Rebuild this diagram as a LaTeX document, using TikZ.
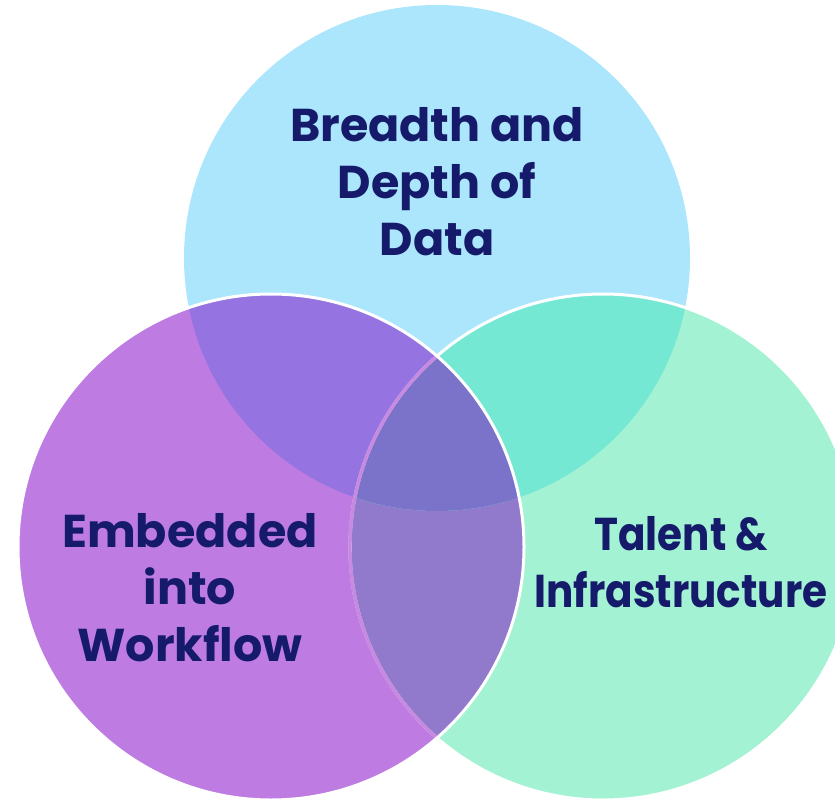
\documentclass[tikz,border=0pt]{standalone}
\usepackage{fontspec}
\setmainfont{Poppins}
\definecolor{datablue}{HTML}{ABE6FC}
\definecolor{workpurple}{HTML}{BE7CE3}
\definecolor{talentgreen}{HTML}{A2F2D3}
\definecolor{dataworkcol}{HTML}{9573E1}
\definecolor{datatalentcol}{HTML}{75E8D3}
\definecolor{worktalentcol}{HTML}{9179CC}
\definecolor{centrecol}{HTML}{7B73CA}
\definecolor{seamcol}{HTML}{C68AE0}
\definecolor{navytext}{HTML}{151A6A}
\tikzset{venntext/.style={align=center, text=navytext, font=\fontsize{46}{57}\selectfont\bfseries}}

\begin{document}
\begin{tikzpicture}[x=1pt, y=-1pt]
                    \useasboundingbox (0,0) rectangle (835,799);
                    \clip (0,0) rectangle (835,799);

                    \coordinate (cdata) at (437, 258);
                    \coordinate (cwork) at (271, 547);
                    \coordinate (ctalent) at (603, 547);

                    \fill[datablue] (cdata) circle[radius=253pt];
                    \fill[workpurple] (cwork) circle[radius=253pt];
                    \fill[talentgreen] (ctalent) circle[radius=253pt];
                    \begin{scope}
                        \clip (cwork) circle[radius=253pt];
                        \fill[worktalentcol] (ctalent) circle[radius=253pt];
                    \end{scope}
                    \begin{scope}
                        \clip (cdata) circle[radius=253pt];
                        \fill[dataworkcol] (cwork) circle[radius=253pt];
                        \fill[datatalentcol] (ctalent) circle[radius=253pt];
                        \clip (cwork) circle[radius=253pt];
                        \fill[centrecol] (ctalent) circle[radius=253pt];
                    \end{scope}

                    \draw[white, line width=3pt] (ctalent) circle[radius=253pt];
                    \begin{scope}
                        \clip (cwork) circle[radius=252pt];
                        \draw[seamcol, line width=3.4pt] (ctalent) circle[radius=253pt];
                    \end{scope}
                    \draw[white, line width=3pt] (cwork) circle[radius=253pt];

                    \node (data) at (437, 182) [venntext] {Breadth and\\Depth of\\Data};
                    \node (work) at (190, 588) [venntext] {Embedded\\into\\Workflow};
                    \node (talent) at (681, 562) [venntext, font=\fontsize{46}{57}\selectfont\bfseries\addfontfeatures{FakeStretch=0.88}] {Talent \&\\Infrastructure};
                \end{tikzpicture}
\end{document}
